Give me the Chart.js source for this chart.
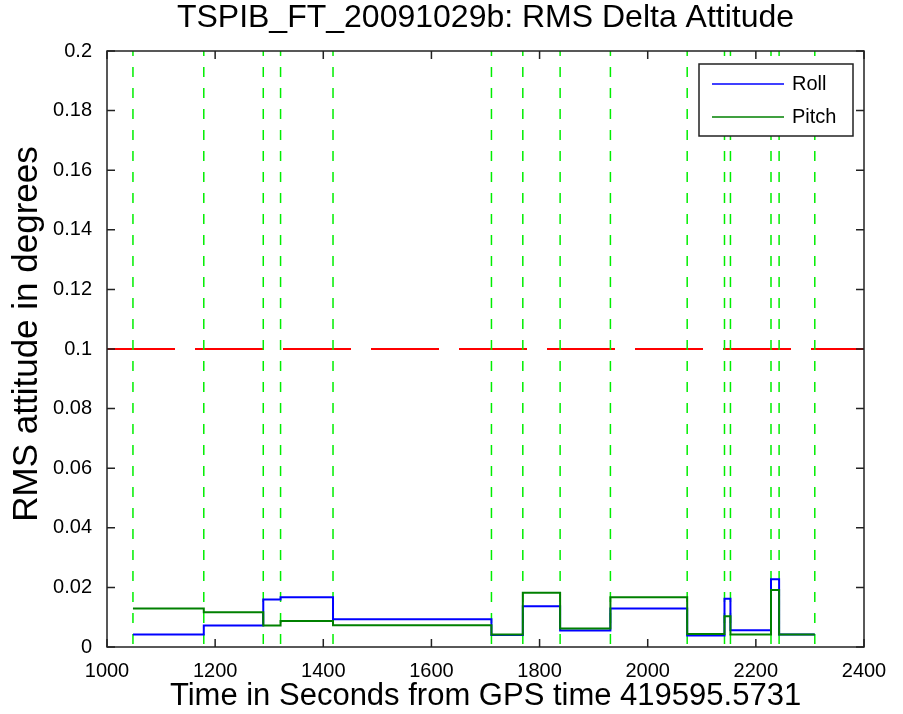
<!DOCTYPE html>
<html>
<head>
<meta charset="utf-8">
<title>RMS Delta Attitude</title>
<script src="https://cdn.jsdelivr.net/npm/chart.js@4.4.1/dist/chart.umd.min.js"></script>
<style>
  html, body { margin: 0; padding: 0; background: #fff; }
  canvas { display: block; }
</style>
</head>
<body>
<canvas id="myChart" width="903" height="714"></canvas>
<script>
// segment boundaries (seconds from GPS time 419595.5731)
var segmentStarts = [1048, 1179, 1289, 1321, 1418, 1711, 1769, 1838, 1931, 2073, 2142, 2153, 2228, 2243];
var segmentEnd = 2309;

// RMS delta attitude per segment, degrees
var rollValues  = [0.0042, 0.0072, 0.0159, 0.0167, 0.0093, 0.0040, 0.0137, 0.0055, 0.0129, 0.0039, 0.0162, 0.0056, 0.0227, 0.0042];
var pitchValues = [0.0129, 0.0117, 0.0072, 0.0087, 0.0073, 0.0042, 0.0182, 0.0062, 0.0167, 0.0044, 0.0103, 0.0042, 0.0191, 0.0042];

// event markers (green dashed) and the 0.1 deg limit (red dashed)
var eventTimes = [1048, 1179, 1289, 1321, 1418, 1711, 1769, 1838, 1931, 2073, 2142, 2153, 2228, 2243, 2309];
var limitValue = 0.1;

var xTickLabels = ['1000', '1200', '1400', '1600', '1800', '2000', '2200', '2400'];
var yTickLabels = ['0', '0.02', '0.04', '0.06', '0.08', '0.1', '0.12', '0.14', '0.16', '0.18', '0.2'];

var titleText = 'TSPIB_FT_20091029b: RMS Delta Attitude';
var yLabelText = 'RMS attitude in degrees';

var FONT = "'Liberation Sans', Arial, Helvetica, sans-serif";

// stairs: one point per segment start, plus the closing point
function stairs(values) {
    var pts = segmentStarts.map(function (x, i) { return {x: x, y: values[i]}; });
    pts.push({x: segmentEnd, y: values[values.length - 1]});
    return pts;
}

var datasets = [
    {
        label: 'Pitch',
        data: stairs(pitchValues),
        stepped: true,
        borderColor: '#008000',
        borderWidth: 2,
        pointRadius: 0,
        order: 1
    },
    {
        label: 'Roll',
        data: stairs(rollValues),
        stepped: true,
        borderColor: '#0000ff',
        borderWidth: 2,
        pointRadius: 0,
        order: 2
    },
    {
        label: 'limit',
        data: [{x: 1000, y: limitValue}, {x: 2400, y: limitValue}],
        borderColor: '#ff0000',
        borderWidth: 2,
        borderDash: [68, 20],
        pointRadius: 0,
        order: 4
    }
];

eventTimes.forEach(function (t) {
    datasets.push({
        label: 'event',
        data: [{x: t, y: 0.2}, {x: t, y: 0}],
        borderColor: '#00ee00',
        borderWidth: 1.5,
        borderDash: [10, 11],
        borderDashOffset: 5,
        pointRadius: 0,
        order: 3
    });
});

// matlab style box with inward ticks on all four sides
var axesBox = {
    id: 'axesBox',
    afterDatasetsDraw: function (chart) {
        var ctx = chart.ctx;
        var a = chart.chartArea;
        var xs = chart.scales.x, ys = chart.scales.y;
        var len = 8;
        ctx.save();
        ctx.strokeStyle = '#222';
        ctx.lineWidth = 1.5;
        ctx.beginPath();
        xs.ticks.forEach(function (t) {
            var px = xs.getPixelForValue(t.value);
            ctx.moveTo(px, a.bottom); ctx.lineTo(px, a.bottom - len);
            ctx.moveTo(px, a.top); ctx.lineTo(px, a.top + len);
        });
        ys.ticks.forEach(function (t) {
            var py = ys.getPixelForValue(t.value);
            ctx.moveTo(a.left, py); ctx.lineTo(a.left + len, py);
            ctx.moveTo(a.right, py); ctx.lineTo(a.right - len, py);
        });
        ctx.stroke();
        ctx.strokeRect(a.left, a.top, a.right - a.left, a.bottom - a.top);
        ctx.restore();
    }
};

// title centred over the axes and the rotated y label
var axesTitles = {
    id: 'axesTitles',
    afterDraw: function (chart) {
        var ctx = chart.ctx;
        var a = chart.chartArea;
        ctx.save();
        ctx.fillStyle = '#000';
        ctx.textAlign = 'center';
        ctx.textBaseline = 'middle';
        ctx.font = '32px ' + FONT;
        ctx.fillText(titleText, (a.left + a.right) / 2, 18);
        ctx.translate(27, (a.top + a.bottom) / 2 - 15);
        ctx.rotate(-Math.PI / 2);
        ctx.font = '35px ' + FONT;
        ctx.fillText(yLabelText, 0, 0);
        ctx.restore();
    }
};

// legend box in the upper right corner of the axes
var boxLegend = {
    id: 'boxLegend',
    afterDraw: function (chart) {
        var ctx = chart.ctx;
        var a = chart.chartArea;
        var w = 154, h = 72;
        var left = a.right - 11 - w, top = a.top + 13;
        var items = [chart.data.datasets[1], chart.data.datasets[0]];
        ctx.save();
        ctx.fillStyle = '#fff';
        ctx.fillRect(left, top, w, h);
        ctx.strokeStyle = '#222';
        ctx.lineWidth = 1.5;
        ctx.strokeRect(left, top, w, h);
        ctx.font = '20px ' + FONT;
        ctx.textBaseline = 'middle';
        ctx.fillStyle = '#000';
        items.forEach(function (ds, i) {
            var y = top + 20 + i * 33;
            ctx.strokeStyle = ds.borderColor;
            ctx.lineWidth = 1.5;
            ctx.beginPath();
            ctx.moveTo(left + 13, y);
            ctx.lineTo(left + 85, y);
            ctx.stroke();
            ctx.fillText(ds.label, left + 93, y);
        });
        ctx.restore();
    }
};

var element = document.getElementById('myChart').getContext('2d');

var chart = new Chart(element, {
    type: 'line',
    data: {datasets: datasets},
    options: {
        responsive: false,
        animation: false,
        devicePixelRatio: 1,
        layout: {padding: {left: 0, right: 39, top: 51, bottom: 0}},
        plugins: {
            legend: {display: false},
            tooltip: {enabled: false},
            title: {display: false}
        },
        scales: {
            x: {
                type: 'linear',
                min: 1000,
                max: 2400,
                grid: {display: false},
                border: {display: false},
                ticks: {
                    stepSize: 200,
                    color: '#000',
                    padding: 4,
                    maxRotation: 0,
                    font: {family: FONT, size: 20},
                    callback: function (v, i) { return xTickLabels[i]; }
                },
                title: {
                    display: true,
                    text: 'Time in Seconds from GPS time 419595.5731',
                    color: '#000',
                    font: {family: FONT, size: 31, lineHeight: 1},
                    padding: {top: 0, bottom: 2}
                },
                afterFit: function (s) { s.height = 67; }
            },
            y: {
                type: 'linear',
                min: 0,
                max: 0.2,
                grid: {display: false},
                border: {display: false},
                ticks: {
                    stepSize: 0.02,
                    color: '#000',
                    padding: 7,
                    font: {family: FONT, size: 20},
                    callback: function (v, i) { return yTickLabels[i]; }
                },
                afterFit: function (s) { s.width = 107; }
            }
        }
    },
    plugins: [axesBox, axesTitles, boxLegend]
});
</script>
</body>
</html>
